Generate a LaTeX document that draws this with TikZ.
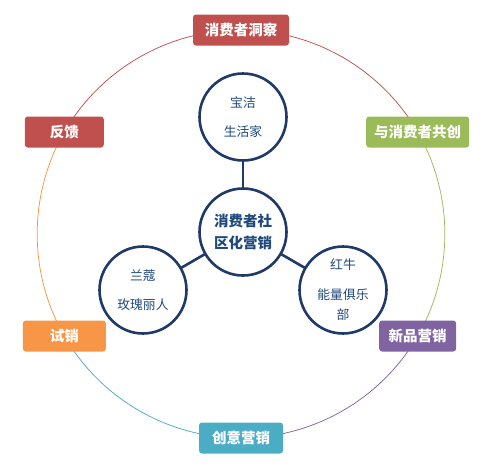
\documentclass[tikz,border=0pt]{standalone}
\usepackage{fontspec}
\setmainfont{Noto Sans CJK SC}
\usetikzlibrary{backgrounds}
\definecolor{navy}{RGB}{31,58,104}
\definecolor{inktext}{RGB}{31,73,125}
\definecolor{tagred}{RGB}{192,80,77}
\definecolor{taggreen}{RGB}{155,187,89}
\definecolor{tagpurple}{RGB}{128,100,162}
\definecolor{tagteal}{RGB}{75,172,198}
\definecolor{tagorange}{RGB}{247,150,70}

\begin{document}
\begin{tikzpicture}[x=1pt,y=1pt, line cap=round, line join=round,
  tag/.style={rounded corners=3pt, text=white, inner xsep=0pt, minimum height=31pt,
    font=\fontsize{14.5}{16}\selectfont\bfseries},
  ring/.style={line width=0.75pt, bend left=30, looseness=0.91},
  brand/.style={circle, draw=navy, line width=2.6pt, fill=white, minimum size=87pt,
    inner sep=0pt, align=center, text=inktext, font=\fontsize{12.8}{20}\selectfont},
  spoke/.style={navy, line width=2.6pt}]
\useasboundingbox (-241,-233) rectangle (253,234);

% outer ring labels
\node[tag, fill=tagred, minimum width=96pt] (insight) at (90:204) {消费者洞察};
\node[tag, fill=taggreen, minimum width=103pt] (cocreate) at (30:204) {与消费者共创};
\node[tag, fill=tagpurple, minimum width=77pt] (newprod) at (-30:204) {新品营销};
\node[tag, fill=tagteal, minimum width=84pt] (creative) at (-90:204) {创意营销};
\node[tag, fill=tagorange, minimum width=83pt] (trial) at (-150:204) {试销};
\node[tag, fill=tagred, minimum width=79pt] (feedback) at (150:204) {反馈};

\begin{scope}[on background layer]
\draw[ring, tagred] (insight.center) to (cocreate.center);
\draw[ring, taggreen] (cocreate.center) to (newprod.center);
\draw[ring, tagpurple] (newprod.center) to (creative.center);
\draw[ring, tagteal] (creative.center) to (trial.center);
\draw[ring, tagorange] (trial.center) to (feedback.center);
\draw[ring, tagred] (feedback.center) to (insight.center);
\end{scope}

% inner circles
\node[brand, font=\fontsize{14.5}{22}\selectfont\bfseries] (hub) at (2,2) {消费者社\\区化营销};
\node[brand] (pg) at (2,117) {宝洁\\[9pt]生活家};
\node[brand] (lancome) at (-98,-56) {兰蔻\\[9pt]玫瑰丽人};
\node[brand] (redbull) at (102,-56) {红牛\\[10pt]能量俱乐\\部};

\draw[spoke] (hub) -- (pg);
\draw[spoke] (hub) -- (lancome);
\draw[spoke] (hub) -- (redbull);
\end{tikzpicture}
\end{document}
